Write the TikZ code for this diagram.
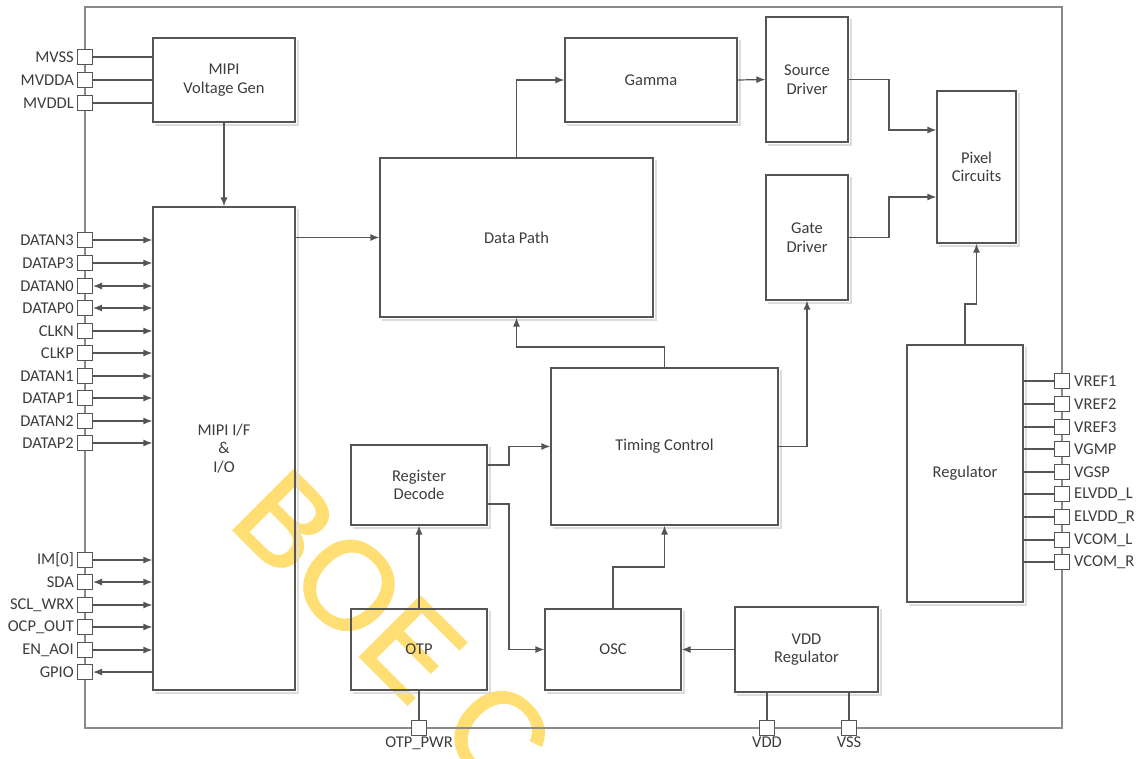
\documentclass[tikz,border=0pt]{standalone}
\usepackage{fontspec}
\setmainfont{Carlito}
\newfontfamily\wmfont[FakeBold=1.6]{Liberation Sans}
\usetikzlibrary{arrows.meta}
\definecolor{boxc}{HTML}{555555}
\definecolor{framec}{HTML}{8A8A8A}
\definecolor{txtc}{HTML}{3C3C3C}
\definecolor{shdc}{HTML}{DDDDDD}
\definecolor{wm}{RGB}{255,222,115}
\begin{document}
\begin{tikzpicture}[x=1pt,y=-1pt,
  blk/.style={draw=boxc, line width=1.2pt, inner sep=0pt, align=center, text=txtc,
              font=\fontsize{16.5}{18.5}\selectfont},
  pin/.style={draw=boxc, fill=white, line width=1pt, minimum width=15pt, minimum height=15pt, inner sep=0pt},
  lbl/.style={text=txtc, font=\fontsize{16.5}{18}\selectfont, inner sep=0pt},
  wire/.style={draw=boxc, line width=1.2pt},
  arr/.style={wire, -{Latex[length=9pt,width=7pt]}},
  barr/.style={wire, {Latex[length=9pt,width=7pt]}-{Latex[length=9pt,width=7pt]}},
  larr/.style={wire, {Latex[length=9pt,width=7pt]}-},
  shd/.style={draw=shdc, line width=2.5pt}]
\useasboundingbox (0,0) rectangle (1139,758);
% watermark
\node[rotate=-45, anchor=base west, text=wm, inner sep=0pt,
      font=\wmfont\fontsize{124}{124}\selectfont] (wmk) at (226,523) {BOE Confidential};
% outer frame
\draw[draw=framec, line width=1.5pt] (85,7) rectangle (1062,728);
% blocks
\node[blk, minimum width=142, minimum height=84] (mvg) at (224,80) {MIPI\\Voltage Gen};
\node[blk, minimum width=142, minimum height=483] (mipi) at (224,448.5) {MIPI I/F\\\&\\I/O};
\node[blk, minimum width=273, minimum height=159] (dp) at (516.5,237.5) {Data Path};
\node[blk, minimum width=172, minimum height=84] (gam) at (651,80) {Gamma};
\node[blk, minimum width=82, minimum height=125] (src) at (807,79.5) {Source\\Driver};
\node[blk, minimum width=82, minimum height=125] (gate) at (807,237.5) {Gate\\Driver};
\node[blk, minimum width=79, minimum height=152] (pix) at (976.5,167) {Pixel\\Circuits};
\node[blk, minimum width=116, minimum height=257] (reg) at (965,473.5) {Regulator};
\node[blk, minimum width=227, minimum height=157] (tc) at (664.5,446.5) {Timing Control};
\node[blk, minimum width=136, minimum height=80] (regdec) at (419,485) {Register\\Decode};
\node[blk, minimum width=136, minimum height=81] (otp) at (419,649.5) {OTP};
\node[blk, minimum width=136, minimum height=81] (osc) at (613,649.5) {OSC};
\node[blk, minimum width=143, minimum height=85] (vdd) at (806.5,649.5) {VDD\\Regulator};
% shadows
\foreach \n in {mvg,mipi,dp,gam,src,gate,pix,reg,tc,regdec,otp,osc,vdd}
  \draw[shd] ([shift={(2.5,3)}]\n.north east) |- ([shift={(3,2.5)}]\n.south west);
% left pins (top group)
\foreach \nm/\y in {MVSS/57, MVDDA/80, MVDDL/103}{
  \node[pin] (pin\nm) at (85,\y) {};
  \node[lbl, anchor=east] (lab\nm) at (74,\y) {\nm};
  \draw[wire] (pin\nm.east) -- (pin\nm.east -| mvg.west);
}
% left pins (data)
\foreach \nm/\lab/\y/\st in {a/DATAN3/240/arr, b/DATAP3/263/arr, c/DATAN0/286/barr, d/DATAP0/308/barr,
    e/CLKN/331/arr, f/CLKP/353/arr, g/DATAN1/376/arr, h/DATAP1/398/arr, i/DATAN2/421/arr, j/DATAP2/443/arr,
    k/{IM[0]}/560/arr, l/SDA/582/barr, m/SCL\_WRX/605/arr, n/OCP\_OUT/627/arr, o/EN\_AOI/650/arr, q/GPIO/672/larr}{
  \node[pin] (lpin\nm) at (85,\y) {};
  \node[lbl, anchor=east] (llab\nm) at (74,\y) {\lab};
  \draw[\st] (lpin\nm.east) -- (lpin\nm.east -| mipi.west);
}
% right pins
\foreach \nm/\lab/\y in {a/VREF1/381, b/VREF2/404, c/VREF3/427, d/VGMP/449, e/VGSP/472,
    f/ELVDD\_L/494, g/ELVDD\_R/517, h/VCOM\_L/540, i/VCOM\_R/562}{
  \node[pin] (rpin\nm) at (1062,\y) {};
  \node[lbl, anchor=west] (rlab\nm) at (1074,\y) {\lab};
  \draw[wire] (reg.east |- rpin\nm.west) -- (rpin\nm.west);
}
% bottom pins
\node[pin] (potp) at (419,728) {};
\node[lbl, anchor=north] (lotp) at (419,737) {OTP\_PWR};
\node[pin] (pvdd) at (767,728) {};
\node[lbl, anchor=north] (lvdd) at (767,737) {VDD};
\node[pin] (pvss) at (849,728) {};
\node[lbl, anchor=north] (lvss) at (849,737) {VSS};
% connectors
\draw[arr] (mvg.south) -- (mipi.north);
\draw[arr] (mipi.east |- dp.west) -- (dp.west);
\draw[arr] (dp.north) |- (gam.west);
\draw[arr] (gam.east) -- (src.west);
\draw[arr] (src.east) -| (889,130) -- (pix.west |- 0,130);
\draw[arr] (gate.east) -| (889,197) -- (pix.west |- 0,197);
\draw[arr] (reg.north) |- (pix.south |- 0,304) -- (pix.south);
\draw[arr] (tc.north) |- (dp.south |- 0,347) -- (dp.south);
\draw[arr] (tc.east) -| (gate.south);
\draw[arr] (regdec.east |- 0,465) -- (509,465) |- (tc.west);
\draw[arr] (regdec.east |- 0,504) -- (509,504) |- (osc.west);
\draw[arr] (otp.north) -- (regdec.south);
\draw[wire] (otp.south) -- (potp.north);
\draw[arr] (osc.north) |- (tc.south |- 0,567) -- (tc.south);
\draw[arr] (vdd.west) -- (osc.east);
\draw[wire] (pvdd.north |- vdd.south) -- (pvdd.north);
\draw[wire] (pvss.north |- vdd.south) -- (pvss.north);
\end{tikzpicture}
\end{document}
